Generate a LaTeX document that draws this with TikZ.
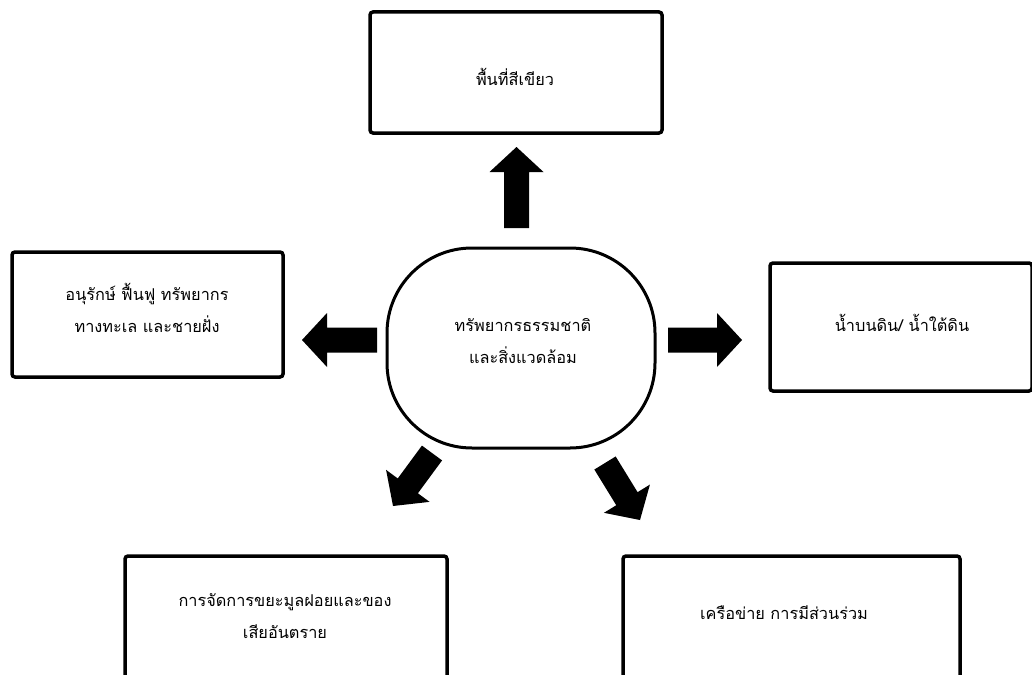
\documentclass[tikz,border=0pt]{standalone}
\usepackage{fontspec}
\newfontfamily\thaifont[Script=Thai]{Loma}
\usetikzlibrary{calc}
\tikzset{
  box/.style={draw=black, line width=3.5pt, rounded corners=3pt, fill=white, inner sep=0pt},
  hub/.style={draw=black, line width=3pt, rounded corners=85pt, fill=white, inner sep=0pt,
              minimum width=268pt, minimum height=200pt},
  lbl/.style={font=\thaifont\fontsize{16.3}{32.5}\selectfont, align=center, inner sep=0pt},
}
\newcommand\blockarrow[2]{%
  \coordinate (bah) at ($(#2)!25pt!(#1)$);
  \fill[black] ($(#1)!12.5pt!90:(#2)$) -- ($(bah)!12.5pt!-90:(#1)$) -- ($(bah)!27pt!-90:(#1)$)
     -- (#2) -- ($(bah)!27pt!90:(#1)$) -- ($(bah)!12.5pt!90:(#1)$) -- ($(#1)!12.5pt!-90:(#2)$) -- cycle;
}
\begin{document}
\begin{tikzpicture}[x=1pt, y=-1pt]
\useasboundingbox (0,0) rectangle (1032,674);
\fill[white] (0,0) rectangle (1032,674);
\clip (0,0) rectangle (1032,674);
% boxes
\node[box, minimum width=292pt, minimum height=121pt] (topbox) at (516,72.5) {};
\node[box, minimum width=271pt, minimum height=125pt] (leftbox) at (147.5,314.5) {};
\node[box, minimum width=262pt, minimum height=128pt] (rightbox) at (901,327) {};
\node[box, minimum width=322pt, minimum height=160pt] (blbox) at (286,636) {};
\node[box, minimum width=337pt, minimum height=160pt] (brbox) at (791.5,636) {};
% hub
\node[hub] (hub) at (521,348) {};
% labels
\node[lbl] (toptext) at (515,77) {พื้นที่สีเขียว};
\node[lbl] (lefttext) at (147,308) {อนุรักษ์ ฟื้นฟู ทรัพยากร\\ทางทะเล และชายฝั่ง};
\node[lbl] (righttext) at (902,323) {น้ำบนดิน/ น้ำใต้ดิน};
\node[lbl] (bltext) at (285,616) {การจัดการขยะมูลฝอยและของ\\เสียอันตราย};
\node[lbl] (brtext) at (784,613) {เครือข่าย การมีส่วนร่วม};
\node[lbl] (hubtext) at (523,341) {ทรัพยากรธรรมชาติ\\และสิ่งแวดล้อม};
% arrow ends
\coordinate (upS) at (516.5,228);
\coordinate (upE) at (516.5,147);
\coordinate (lfS) at (377,340);
\coordinate (lfE) at (302,340);
\coordinate (rtS) at (668,340);
\coordinate (rtE) at (742,340);
\coordinate (dlS) at (432,453);
\coordinate (dlE) at (393,506);
\coordinate (drS) at (605,463);
\coordinate (drE) at (640,520);
\blockarrow{upS}{upE}
\blockarrow{lfS}{lfE}
\blockarrow{rtS}{rtE}
\blockarrow{dlS}{dlE}
\blockarrow{drS}{drE}
\end{tikzpicture}
\end{document}
